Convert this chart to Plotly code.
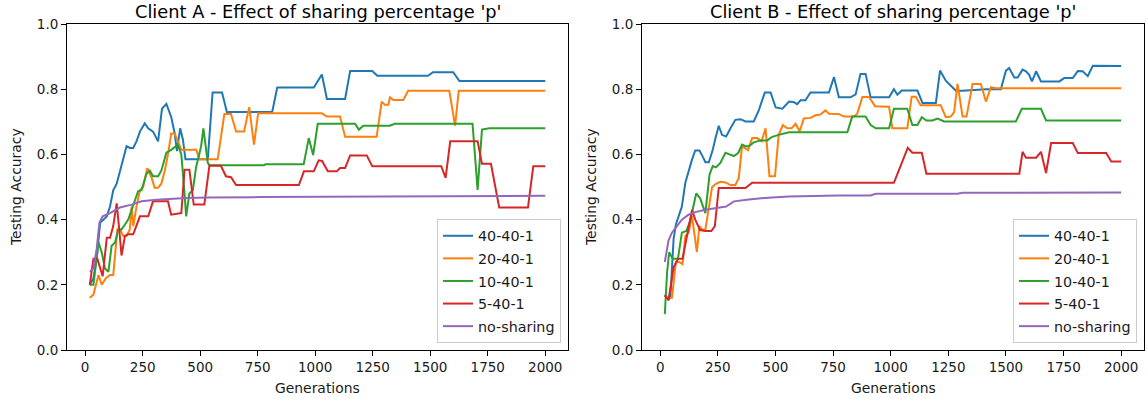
import plotly.graph_objects as go

# ---------------- Data ----------------
series_names = ["40-40-1", "20-40-1", "10-40-1", "5-40-1", "no-sharing"]
colors = ["#1f77b4", "#ff7f0e", "#2ca02c", "#d62728", "#9467bd"]
titles = ["Client A - Effect of sharing percentage 'p'",
          "Client B - Effect of sharing percentage 'p'"]
x_ticks = [0, 250, 500, 750, 1000, 1250, 1500, 1750, 2000]
y_ticks = [0.0, 0.2, 0.4, 0.6, 0.8, 1.0]

# Client A
a40_gen = [20, 36, 50, 65, 80, 94, 108, 122, 137, 151, 166, 180, 195, 209, 223, 238, 259, 274, 295, 317,
           334, 353, 374, 389, 399, 413, 425, 436, 533, 554, 595, 616, 813, 835, 994, 1029, 1051, 1130,
           1152, 1248, 1270, 1490, 1512, 1600, 1627, 2000]
a40_acc = [0.20, 0.22, 0.28, 0.39, 0.40, 0.41, 0.44, 0.49, 0.51, 0.55, 0.59, 0.625, 0.62, 0.62, 0.64, 0.67,
           0.695, 0.68, 0.67, 0.64, 0.74, 0.755, 0.715, 0.665, 0.61, 0.68, 0.645, 0.585, 0.585, 0.79, 0.79,
           0.73, 0.73, 0.805, 0.805, 0.845, 0.77, 0.77, 0.856, 0.856, 0.841, 0.841, 0.852, 0.852, 0.825, 0.825]

a20_gen = [20, 36, 58, 72, 90, 108, 122, 140, 151, 166, 180, 194, 202, 209, 223, 238, 252, 270, 288, 302,
           317, 331, 346, 360, 374, 389, 403, 418, 483, 497, 576, 605, 634, 656, 691, 713, 734, 752, 1029,
           1051, 1108, 1130, 1267, 1289, 1303, 1318, 1325, 1340, 1383, 1404, 1583, 1608, 1624, 2000]
a20_acc = [0.16, 0.17, 0.23, 0.20, 0.22, 0.23, 0.23, 0.37, 0.37, 0.35, 0.35, 0.37, 0.44, 0.38, 0.44, 0.49,
           0.50, 0.558, 0.53, 0.498, 0.498, 0.51, 0.55, 0.60, 0.664, 0.664, 0.64, 0.614, 0.614, 0.585, 0.585,
           0.724, 0.724, 0.67, 0.67, 0.745, 0.63, 0.726, 0.726, 0.716, 0.716, 0.654, 0.654, 0.762, 0.752,
           0.752, 0.775, 0.767, 0.767, 0.795, 0.795, 0.688, 0.795, 0.795]

a10_gen = [20, 36, 58, 72, 86, 101, 115, 130, 144, 158, 173, 187, 202, 216, 230, 245, 266, 281, 295, 317,
           331, 353, 374, 403, 418, 432, 439, 453, 468, 482, 504, 514, 533, 540, 778, 784, 950, 972, 991,
           1011, 1173, 1190, 1209, 1324, 1346, 1684, 1706, 1725, 1757, 2000]
a10_acc = [0.20, 0.20, 0.33, 0.30, 0.25, 0.24, 0.32, 0.33, 0.37, 0.37, 0.385, 0.40, 0.43, 0.46, 0.487, 0.49,
           0.54, 0.55, 0.533, 0.533, 0.55, 0.605, 0.614, 0.63, 0.60, 0.48, 0.41, 0.48, 0.49, 0.56, 0.625,
           0.68, 0.574, 0.567, 0.567, 0.57, 0.57, 0.65, 0.598, 0.694, 0.694, 0.676, 0.688, 0.688, 0.694,
           0.694, 0.491, 0.676, 0.68, 0.68]

a5_gen = [20, 36, 53, 76, 94, 108, 122, 137, 148, 158, 173, 187, 209, 223, 238, 274, 295, 360, 374, 418,
          432, 453, 472, 518, 540, 590, 612, 634, 656, 929, 951, 994, 1015, 1030, 1055, 1094, 1108, 1130,
          1152, 1224, 1248, 1548, 1567, 1587, 1706, 1725, 1764, 1800, 1925, 1948, 2000]
a5_acc = [0.20, 0.28, 0.28, 0.226, 0.344, 0.344, 0.38, 0.45, 0.37, 0.29, 0.35, 0.355, 0.355, 0.38, 0.41,
          0.41, 0.456, 0.456, 0.415, 0.42, 0.553, 0.553, 0.446, 0.446, 0.565, 0.565, 0.533, 0.53, 0.506,
          0.506, 0.548, 0.548, 0.582, 0.58, 0.548, 0.548, 0.558, 0.558, 0.597, 0.597, 0.564, 0.564, 0.528,
          0.64, 0.64, 0.571, 0.571, 0.437, 0.437, 0.564, 0.564]

a0_gen = [20, 36, 50, 62, 76, 108, 151, 202, 245, 310, 439, 540, 756, 1500, 2000]
a0_acc = [0.24, 0.25, 0.31, 0.39, 0.41, 0.42, 0.437, 0.446, 0.456, 0.461, 0.466, 0.468, 0.469, 0.472, 0.473]

# Client B
b40_gen = [20, 36, 44, 58, 68, 80, 94, 109, 123, 138, 152, 170, 184, 196, 211, 228, 240, 254, 268, 286,
           305, 326, 348, 370, 406, 428, 454, 479, 501, 530, 559, 580, 594, 609, 630, 652, 732, 754, 775,
           826, 848, 869, 891, 913, 993, 1014, 1029, 1048, 1116, 1138, 1196, 1214, 1239, 1283, 1312, 1413,
           1478, 1500, 1514, 1536, 1551, 1572, 1587, 1600, 1613, 1631, 1652, 1732, 1753, 1790, 1812, 1833,
           1855, 1877, 2000]
b40_acc = [0.17, 0.155, 0.16, 0.34, 0.385, 0.41, 0.44, 0.513, 0.55, 0.584, 0.612, 0.612, 0.594, 0.576,
           0.576, 0.614, 0.65, 0.688, 0.66, 0.655, 0.68, 0.706, 0.708, 0.701, 0.701, 0.736, 0.79, 0.79,
           0.744, 0.74, 0.762, 0.76, 0.754, 0.766, 0.766, 0.79, 0.79, 0.837, 0.775, 0.775, 0.784, 0.847,
           0.847, 0.775, 0.775, 0.80, 0.783, 0.796, 0.796, 0.758, 0.758, 0.857, 0.826, 0.795, 0.795, 0.80,
           0.80, 0.857, 0.865, 0.836, 0.836, 0.86, 0.855, 0.845, 0.824, 0.855, 0.824, 0.824, 0.834, 0.834,
           0.856, 0.855, 0.84, 0.872, 0.871]

b20_gen = [20, 36, 51, 68, 83, 97, 109, 123, 138, 148, 159, 170, 181, 196, 211, 225, 242, 261, 283, 305,
           326, 341, 355, 367, 381, 399, 421, 440, 457, 474, 498, 514, 532, 551, 570, 587, 605, 623, 652,
           674, 695, 717, 732, 775, 797, 840, 855, 877, 906, 932, 993, 1007, 1072, 1091, 1109, 1130, 1217,
           1239, 1261, 1275, 1290, 1312, 1329, 1355, 1391, 1413, 1435, 1457, 2000]
b20_acc = [0.17, 0.16, 0.16, 0.27, 0.27, 0.263, 0.35, 0.36, 0.41, 0.35, 0.30, 0.38, 0.37, 0.37, 0.44, 0.50,
           0.51, 0.516, 0.514, 0.506, 0.506, 0.528, 0.625, 0.62, 0.613, 0.65, 0.65, 0.64, 0.68, 0.533, 0.533,
           0.66, 0.69, 0.68, 0.68, 0.694, 0.671, 0.71, 0.712, 0.72, 0.722, 0.735, 0.725, 0.724, 0.716, 0.716,
           0.725, 0.776, 0.776, 0.748, 0.746, 0.68, 0.68, 0.777, 0.777, 0.751, 0.751, 0.714, 0.716, 0.73,
           0.816, 0.716, 0.716, 0.816, 0.816, 0.762, 0.806, 0.803, 0.803]

b10_gen = [20, 30, 39, 54, 77, 94, 113, 130, 156, 173, 196, 214, 228, 242, 261, 283, 301, 320, 339, 355,
           370, 384, 406, 435, 464, 486, 514, 559, 812, 833, 891, 913, 935, 993, 1014, 1072, 1094, 1116,
           1135, 1155, 1181, 1203, 1232, 1543, 1569, 1652, 1674, 2000]
b10_acc = [0.11, 0.24, 0.30, 0.28, 0.28, 0.36, 0.365, 0.395, 0.48, 0.466, 0.42, 0.538, 0.564, 0.56, 0.574,
           0.605, 0.60, 0.595, 0.605, 0.63, 0.625, 0.625, 0.637, 0.643, 0.643, 0.654, 0.66, 0.668, 0.668,
           0.716, 0.716, 0.69, 0.68, 0.68, 0.74, 0.74, 0.69, 0.69, 0.714, 0.704, 0.704, 0.71, 0.701, 0.701,
           0.74, 0.74, 0.704, 0.704]

b5_gen = [20, 36, 58, 77, 97, 116, 138, 152, 173, 196, 222, 237, 254, 370, 399, 1014, 1074, 1094, 1135,
          1155, 1558, 1572, 1587, 1631, 1652, 1674, 1696, 1790, 1812, 1935, 1957, 2000]
b5_acc = [0.167, 0.153, 0.253, 0.28, 0.28, 0.355, 0.43, 0.40, 0.368, 0.365, 0.365, 0.38, 0.497, 0.497,
          0.513, 0.513, 0.62, 0.605, 0.605, 0.541, 0.541, 0.608, 0.59, 0.59, 0.608, 0.543, 0.635, 0.635,
          0.604, 0.604, 0.578, 0.578]

b0_gen = [20, 36, 51, 73, 94, 123, 152, 196, 240, 286, 320, 384, 486, 559, 775, 913, 935, 1290, 1312, 2000]
b0_acc = [0.27, 0.336, 0.36, 0.38, 0.40, 0.415, 0.423, 0.43, 0.435, 0.44, 0.456, 0.462, 0.468, 0.471,
          0.474, 0.474, 0.479, 0.479, 0.482, 0.483]

client_a = [(a40_gen, a40_acc), (a20_gen, a20_acc), (a10_gen, a10_acc), (a5_gen, a5_acc), (a0_gen, a0_acc)]
client_b = [(b40_gen, b40_acc), (b20_gen, b20_acc), (b10_gen, b10_acc), (b5_gen, b5_acc), (b0_gen, b0_acc)]

# ---------------- Figure ----------------
FONT = "DejaVu Sans"
fig = go.Figure()

for panel, (data, xa, ya, leg) in enumerate([(client_a, "x", "y", "legend"),
                                              (client_b, "x2", "y2", "legend2")]):
    for i, (gx, gy) in enumerate(data):
        fig.add_trace(go.Scatter(
            x=gx, y=gy, mode="lines", name=series_names[i],
            line=dict(color=colors[i], width=2),
            xaxis=xa, yaxis=ya, legend=leg, legendgroup=f"{panel}-{i}",
            hoverinfo="skip"))

W, H = 1146, 404
ml, mr, mt, mb = 67, 2, 24, 54
pw = W - ml - mr
dom_a = [0, (568 - ml) / pw]
dom_b = [(642 - ml) / pw, 1]

axis_common = dict(showline=True, mirror=True, linecolor="black", linewidth=1,
                   ticks="outside", ticklen=5, tickwidth=1, tickcolor="black",
                   showgrid=False, zeroline=False,
                   tickfont=dict(family=FONT, size=13.5, color="#1a1a1a"))

xcommon = dict(axis_common, range=[-79, 2099], tickvals=x_ticks,
               ticktext=[str(t) for t in x_ticks])
ycommon = dict(axis_common, range=[0, 1], tickvals=y_ticks,
               ticktext=[f"{t:.1f}" for t in y_ticks])

legend_common = dict(font=dict(family=FONT, size=14.3, color="#1a1a1a"),
                     bgcolor="rgba(255,255,255,0.8)", bordercolor="#cccccc",
                     borderwidth=1, xanchor="right", yanchor="bottom",
                     tracegroupgap=1, itemwidth=30)

annotations = []
for dom, title in zip([dom_a, dom_b], titles):
    cx = (dom[0] + dom[1]) / 2
    annotations.append(dict(text=title, x=cx, y=1, xref="paper", yref="paper",
                            xanchor="center", yanchor="middle", yshift=13, showarrow=False,
                            font=dict(family=FONT, size=17.8, color="black")))
    annotations.append(dict(text="Generations", x=cx, y=0, xref="paper", yref="paper",
                            xanchor="center", yanchor="middle", yshift=-38, showarrow=False,
                            font=dict(family=FONT, size=13.9, color="#1a1a1a")))
    annotations.append(dict(text="Testing Accuracy", x=dom[0], y=0.5, xref="paper", yref="paper",
                            xanchor="center", yanchor="middle", xshift=-51, textangle=-90,
                            showarrow=False,
                            font=dict(family=FONT, size=13.9, color="#1a1a1a")))

fig.update_layout(
    width=W, height=H,
    margin=dict(l=ml, r=mr, t=mt, b=mb, autoexpand=False),
    paper_bgcolor="white", plot_bgcolor="white",
    xaxis=dict(xcommon, domain=dom_a, anchor="y"),
    yaxis=dict(ycommon, domain=[0, 1], anchor="x"),
    xaxis2=dict(xcommon, domain=dom_b, anchor="y2"),
    yaxis2=dict(ycommon, domain=[0, 1], anchor="x2"),
    legend=dict(legend_common, x=(561 - ml) / pw, y=0.0215),
    legend2=dict(legend_common, x=(1137 - ml) / pw, y=0.0215),
    annotations=annotations,
    showlegend=True,
)

fig.write_html("out.html",
               config={"displayModeBar": False, "staticPlot": True},
               post_script="document.body.style.margin='0';document.body.style.overflow='hidden';")
